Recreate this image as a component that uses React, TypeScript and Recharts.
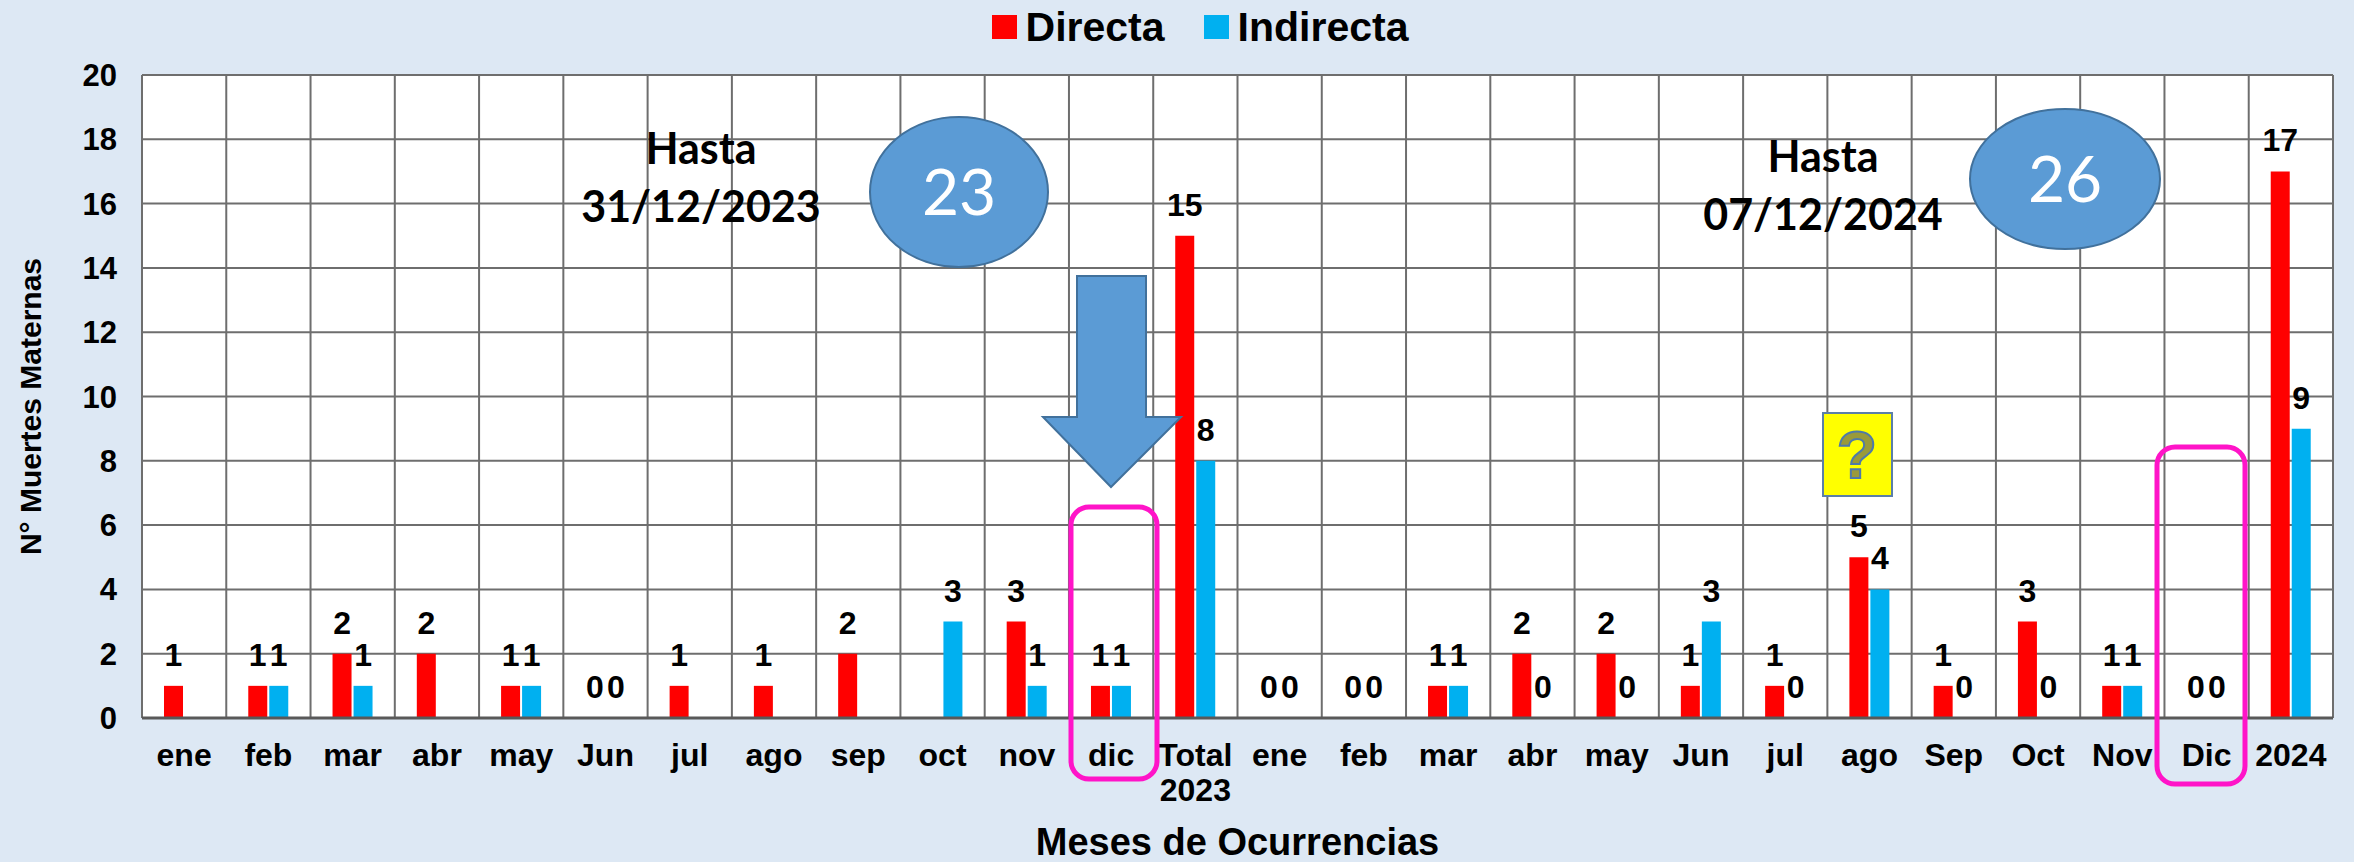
import React from "react";
import {
  BarChart,
  Bar,
  XAxis,
  YAxis,
  CartesianGrid,
  Legend,
  LabelList,
} from "recharts";

// Muertes maternas por mes de ocurrencia, 2023 y 2024
const MONTHS = [
  "ene", "feb", "mar", "abr", "may", "Jun", "jul", "ago", "sep", "oct", "nov", "dic", "Total 2023",
  "ene", "feb", "mar", "abr", "may", "Jun", "jul", "ago", "Sep", "Oct", "Nov", "Dic", "2024",
];
const DIRECTA = [1, 1, 2, 2, 1, 0, 1, 1, 2, null, 3, 1, 15, 0, 0, 1, 2, 2, 1, 1, 5, 1, 3, 1, 0, 17];
const INDIRECTA = [null, 1, 1, null, 1, 0, null, null, null, 3, 1, 1, 8, 0, 0, 1, 0, 0, 3, 0, 4, 0, 0, 1, 0, 9];
const Y_TICKS = [0, 2, 4, 6, 8, 10, 12, 14, 16, 18, 20];

const data = MONTHS.map((m, i) => ({ mes: m, directa: DIRECTA[i], indirecta: INDIRECTA[i] }));

const W = 2354;
const H = 862;
const FONT = "'Liberation Sans', Arial, sans-serif";
const NOTE_FONT = "Lato, 'Open Sans', sans-serif";
const RED = "#FF0000";
const BLUE = "#00B0F0";
const SHAPE = "#5B9BD5";
const SHAPE_LINE = "#41719C";
const PINK = "#FF14C8";

// zero-valued bars keep a hairline so their "0" label is still drawn
const keepZero = (v: any) => (v === 0 ? 0.01 : 0);

function MonthTick(props: any) {
  const { x, y, payload } = props;
  const lines = String(payload.value).split(" ");
  return (
    <text x={x} y={y + 46} textAnchor="middle" fontFamily={FONT} fontSize={32} fontWeight="bold" fill="#000">
      {lines.map((l, i) => (
        <tspan key={i} x={x} dy={i === 0 ? 0 : 35}>
          {l}
        </tspan>
      ))}
    </text>
  );
}

function LegendBox() {
  const item = (color: string, label: string, gap: number) => (
    <div style={{ display: "flex", alignItems: "center", marginRight: gap }}>
      <div style={{ width: 25, height: 24, background: color, marginRight: 9 }} />
      <span style={{ fontFamily: FONT, fontWeight: "bold", fontSize: 41, lineHeight: 1, color: "#000" }}>{label}</span>
    </div>
  );
  return (
    <div style={{ display: "flex", justifyContent: "center", alignItems: "center", height: 54, paddingLeft: 46 }}>
      {item(RED, "Directa", 39)}
      {item(BLUE, "Indirecta", 0)}
    </div>
  );
}

function Notes() {
  return (
    <svg width={W} height={H} style={{ position: "absolute", left: 0, top: 0, pointerEvents: "none" }}>
      <g fontFamily={NOTE_FONT} fontWeight="bold" fontSize={43} fill="#000" textAnchor="middle">
        <text x={701} y={164}>Hasta</text>
        <text x={701} y={222}>31/12/2023</text>
        <text x={1823} y={172}>Hasta</text>
        <text x={1823} y={230}>07/12/2024</text>
      </g>
      <ellipse cx={959} cy={192} rx={89} ry={75} fill={SHAPE} stroke={SHAPE_LINE} strokeWidth={2} />
      <text x={959} y={215} textAnchor="middle" fontFamily={NOTE_FONT} fontSize={64} fill="#fff">23</text>
      <ellipse cx={2065} cy={179} rx={95} ry={70} fill={SHAPE} stroke={SHAPE_LINE} strokeWidth={2} />
      <text x={2065} y={202} textAnchor="middle" fontFamily={NOTE_FONT} fontSize={64} fill="#fff">26</text>
      <path
        d="M1077,276 L1146,276 L1146,417 L1181,417 L1111,487 L1043,417 L1077,417 Z"
        fill={SHAPE}
        stroke={SHAPE_LINE}
        strokeWidth={2}
      />
      <rect x={1071} y={507} width={86} height={272} rx={18} fill="none" stroke={PINK} strokeWidth={5} />
      <rect x={2157} y={447} width={88} height={337} rx={18} fill="none" stroke={PINK} strokeWidth={5} />
      <rect x={1823} y={413} width={69} height={83} fill="#FFFF00" stroke="#5B7FA8" strokeWidth={2} />
      <text x={1857} y={478} textAnchor="middle" fontFamily={FONT} fontWeight="bold" fontSize={66} fill="#9A9A3A" stroke="#4F7AA8" strokeWidth={2}>?</text>
    </svg>
  );
}

export default function App() {
  return (
    <div style={{ position: "fixed", left: 0, top: 0, width: W, height: H, background: "#DDE8F4" }}>
      <BarChart
        width={W}
        height={H}
        data={data}
        margin={{ top: 75, right: 21, bottom: 0, left: 0 }}
        barSize={19}
        barGap={2}
      >
        <CartesianGrid
          fill="#fff"
          fillOpacity={1}
          stroke="#6E6E6E"
          strokeWidth={2}
          verticalCoordinatesGenerator={({ offset }: any) =>
            Array.from({ length: MONTHS.length + 1 }, (_, i) => offset.left + (i * offset.width) / MONTHS.length)
          }
        />
        <XAxis
          dataKey="mes"
          interval={0}
          height={144}
          tickLine={false}
          tickSize={0}
          axisLine={{ stroke: "#595959", strokeWidth: 3 }}
          tick={<MonthTick />}
          label={{
            value: "Meses de Ocurrencias",
            position: "insideBottom",
            offset: 7,
            fontSize: 38,
            fontWeight: "bold",
            fill: "#000",
            fontFamily: FONT,
          }}
        />
        <YAxis
          width={142}
          domain={[0, 20]}
          ticks={Y_TICKS}
          interval={0}
          axisLine={false}
          tickLine={false}
          tickMargin={19}
          tick={{ fontSize: 31, fontWeight: "bold", fill: "#000", fontFamily: FONT }}
          label={{
            content: ({ viewBox }: any) => (
              <text
                x={30}
                y={viewBox.y + viewBox.height / 2 + 10}
                transform={`rotate(-90 30 ${viewBox.y + viewBox.height / 2 + 10})`}
                textAnchor="middle"
                dominantBaseline="central"
                fontFamily={FONT}
                fontSize={30}
                fontWeight="bold"
                fill="#000"
              >
                N° Muertes Maternas
              </text>
            ),
          }}
        />
        <Legend
          layout="horizontal"
          verticalAlign="middle"
          align="center"
          content={<LegendBox />}
          wrapperStyle={{ top: 0, left: 0, width: W, height: 54 }}
        />
        <Bar dataKey="directa" name="Directa" fill={RED} minPointSize={keepZero} isAnimationActive={false}>
          <LabelList dataKey="directa" position="top" offset={20} fill="#000" fontSize={32} fontWeight="bold" fontFamily={FONT} />
        </Bar>
        <Bar dataKey="indirecta" name="Indirecta" fill={BLUE} minPointSize={keepZero} isAnimationActive={false}>
          <LabelList dataKey="indirecta" position="top" offset={20} fill="#000" fontSize={32} fontWeight="bold" fontFamily={FONT} />
        </Bar>
      </BarChart>
      <Notes />
    </div>
  );
}
